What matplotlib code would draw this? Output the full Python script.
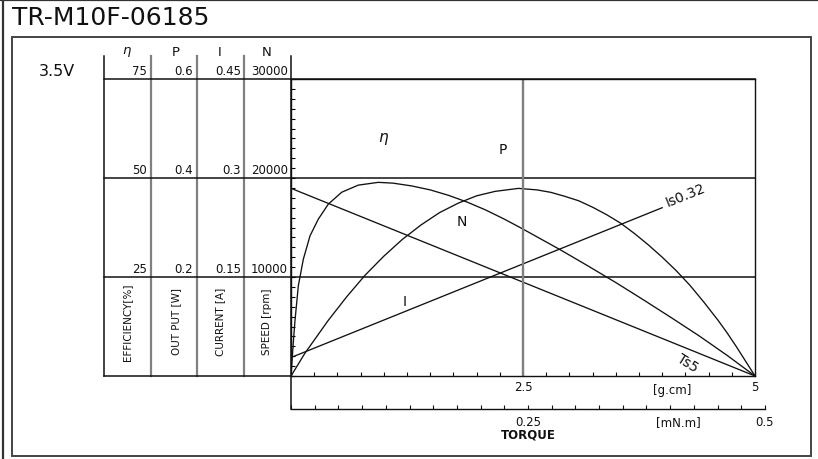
import numpy as np
import matplotlib
matplotlib.use("Agg")
import matplotlib.pyplot as plt
from matplotlib.ticker import FixedLocator, MultipleLocator, NullFormatter, FixedFormatter
from matplotlib.patches import Rectangle

# ------------------------------------------------------------
# data (3.5 V)
# torque in g.cm
# ------------------------------------------------------------
TORQUE_ETA = [0, 0.025, 0.043, 0.079, 0.133, 0.205, 0.294, 0.402, 0.546, 0.725,
              0.94, 1.1, 1.3, 1.5, 1.7, 1.9, 2.1, 2.3, 2.5, 2.7,
              2.9, 3.2, 3.5, 3.8, 4.1, 4.4, 4.7, 5.0]
ETA = [0, 8.5, 14.0, 22.8, 29.5, 35.4, 39.6, 43.4, 46.4, 48.2,
       48.9, 48.7, 48.0, 47.0, 45.6, 43.9, 41.9, 39.6, 37.1, 34.5,
       31.9, 27.8, 23.6, 19.2, 14.7, 10.1, 5.2, 0]

TORQUE_P = [0, 0.15, 0.4, 0.6, 0.8, 1.0, 1.2, 1.4, 1.6, 1.8, 2.0,
            2.2, 2.45, 2.65, 2.8, 2.95, 3.1, 3.25, 3.4, 3.55, 3.7, 3.85,
            4.0, 4.15, 4.3, 4.45, 4.6, 4.7, 4.8, 5.0]
POWER = [0, 0.046, 0.112, 0.160, 0.204, 0.242, 0.276, 0.305, 0.330, 0.349, 0.364,
         0.373, 0.379, 0.376, 0.371, 0.363, 0.354, 0.341, 0.326, 0.309, 0.288, 0.265,
         0.240, 0.213, 0.183, 0.149, 0.113, 0.087, 0.059, 0]

TORQUE_N = [0, 5.0]
SPEED = [18960, 0]

TORQUE_I = [0, 4.0]
CURRENT = [0.028, 0.255]

# scale tops of the four stacked axes (eta %, P W, I A, N rpm)
SCALE_TOP = {"eta": 75, "P": 0.6, "I": 0.45, "N": 30000}
COL_HEAD = ["$\\eta$", "P", "I", "N"]
ROW_75 = ["75", "0.6", "0.45", "30000"]
ROW_50 = ["50", "0.4", "0.3", "20000"]
ROW_25 = ["25", "0.2", "0.15", "10000"]
COL_UNITS = ["EFFICIENCY[%]", "OUT PUT [W]", "CURRENT [A]", "SPEED [rpm]"]

W, H = 818, 460
INK = "#111111"


def fx(px):
    return px / W


def fy(py):
    return 1 - py / H


fig = plt.figure(figsize=(W / 100, H / 100), dpi=100)
fig.patch.set_facecolor("white")

# overlay in pixel coordinates for frame + table
ov = fig.add_axes([0, 0, 1, 1])
ov.set_xlim(0, W)
ov.set_ylim(H, 0)
ov.axis("off")

# outer frame
ov.plot([3, 3], [0, H], color="#333333", lw=1.6)
ov.plot([0, W], [1, 1], color="#333333", lw=1.6)
ov.add_patch(Rectangle((11.5, 37.5), 799.5, 419.5, fill=False, ec="#444444", lw=1.4))

ov.text(12, 18, "TR-M10F-06185", fontsize=18, ha="left", va="center", color=INK)
ov.text(57, 72, "3.5V", fontsize=11.5, ha="center", va="center", color=INK)

# table lines
ov.plot([104, 104], [57, 377], color=INK, lw=1.1)
for xc in [151, 197, 244]:
    ov.plot([xc, xc], [57, 377], color="#808080", lw=1.6)
ov.plot([291, 291], [57, 410], color=INK, lw=1.1)
for yl in [80, 179, 278]:
    ov.plot([104, 755], [yl, yl], color=INK, lw=1.1)
ov.plot([104, 291], [377, 377], color=INK, lw=1.1)

# header + scale values
head_x = [127, 176, 220, 267]
right_x = [147, 193, 241, 288]
for hx, name in zip(head_x, COL_HEAD):
    ov.text(hx, 52, name, fontsize=9.5, ha="center", va="center", color=INK)
for row, yl in [(ROW_75, 80), (ROW_50, 179), (ROW_25, 278)]:
    for rx, lab in zip(right_x, row):
        ov.text(rx, yl - 8.5, lab, fontsize=8.5, ha="right", va="center", color=INK)
for cx, lab in zip(head_x, COL_UNITS):
    ov.text(cx, 322, lab, fontsize=7.5, rotation=90, ha="center", va="center", color=INK)

# ------------------------------------------------------------
# main characteristic axes
# ------------------------------------------------------------
ax = fig.add_axes([fx(291), fy(377), (755 - 291) / W, (377 - 80) / H])
ax.patch.set_alpha(0)
ax.set_xlim(0, 5)
ax.set_ylim(0, 1)

lw = 0.95
ax.plot(TORQUE_ETA, np.array(ETA) / SCALE_TOP["eta"], color=INK, lw=lw)
ax.plot(TORQUE_P, np.array(POWER) / SCALE_TOP["P"], color=INK, lw=lw)
ax.plot(TORQUE_N, np.array(SPEED) / SCALE_TOP["N"], color=INK, lw=lw)
ax.plot(TORQUE_I, np.array(CURRENT) / SCALE_TOP["I"], color=INK, lw=lw)
ax.axvline(2.5, color="#7f7f7f", lw=1.7)

ax.text(1.0, 0.80, "$\\eta$", fontsize=11, ha="center", va="center", color=INK)
ax.text(2.28, 0.764, "P", fontsize=10, ha="center", va="center", color=INK)
ax.text(1.84, 0.522, "N", fontsize=10, ha="center", va="center", color=INK)
ax.text(1.226, 0.2525, "I", fontsize=10, ha="center", va="center", color=INK)
ax.text(4.04, 0.584, "Is0.32", fontsize=10, rotation=22, rotation_mode="anchor",
        ha="left", va="center", color=INK)
ax.text(4.27, 0.045, "Ts5", fontsize=10, rotation=-32, rotation_mode="anchor",
        ha="center", va="center", color=INK)

for s in ax.spines.values():
    s.set_color(INK)
    s.set_linewidth(1.0)
ax.xaxis.set_major_locator(FixedLocator([2.5, 5]))
ax.xaxis.set_major_formatter(FixedFormatter(["2.5", "5"]))
ax.xaxis.set_minor_locator(MultipleLocator(0.25))
ax.yaxis.set_major_locator(MultipleLocator(1 / 30))
ax.yaxis.set_major_formatter(NullFormatter())
ax.tick_params(axis="x", which="both", direction="in", length=3, width=0.8,
               labelsize=8.5, pad=3, colors=INK)
ax.tick_params(axis="y", which="both", direction="in", length=3, width=0.8)

# ------------------------------------------------------------
# secondary torque axis in mN.m
# ------------------------------------------------------------
axm = fig.add_axes([fx(291), fy(410), (765 - 291) / W, 0.0005])
axm.patch.set_alpha(0)
axm.set_xlim(0, 0.5)
for side in ["top", "left", "right"]:
    axm.spines[side].set_visible(False)
axm.spines["bottom"].set_color(INK)
axm.spines["bottom"].set_linewidth(1.0)
axm.set_yticks([])
axm.xaxis.set_major_locator(FixedLocator([0.25, 0.5]))
axm.xaxis.set_major_formatter(FixedFormatter(["0.25", "0.5"]))
axm.xaxis.set_minor_locator(MultipleLocator(0.025))
axm.tick_params(axis="x", which="both", direction="in", length=3, width=0.8,
                labelsize=8.5, pad=4, colors=INK)

ov.text(672, 391, "[g.cm]", fontsize=8.5, ha="center", va="center", color=INK)
ov.text(678, 423, "[mN.m]", fontsize=8.5, ha="center", va="center", color=INK)
ov.text(528, 435, "TORQUE", fontsize=8.5, ha="center", va="center", color=INK,
        fontweight="semibold")

fig.savefig("out.png", dpi=100)
